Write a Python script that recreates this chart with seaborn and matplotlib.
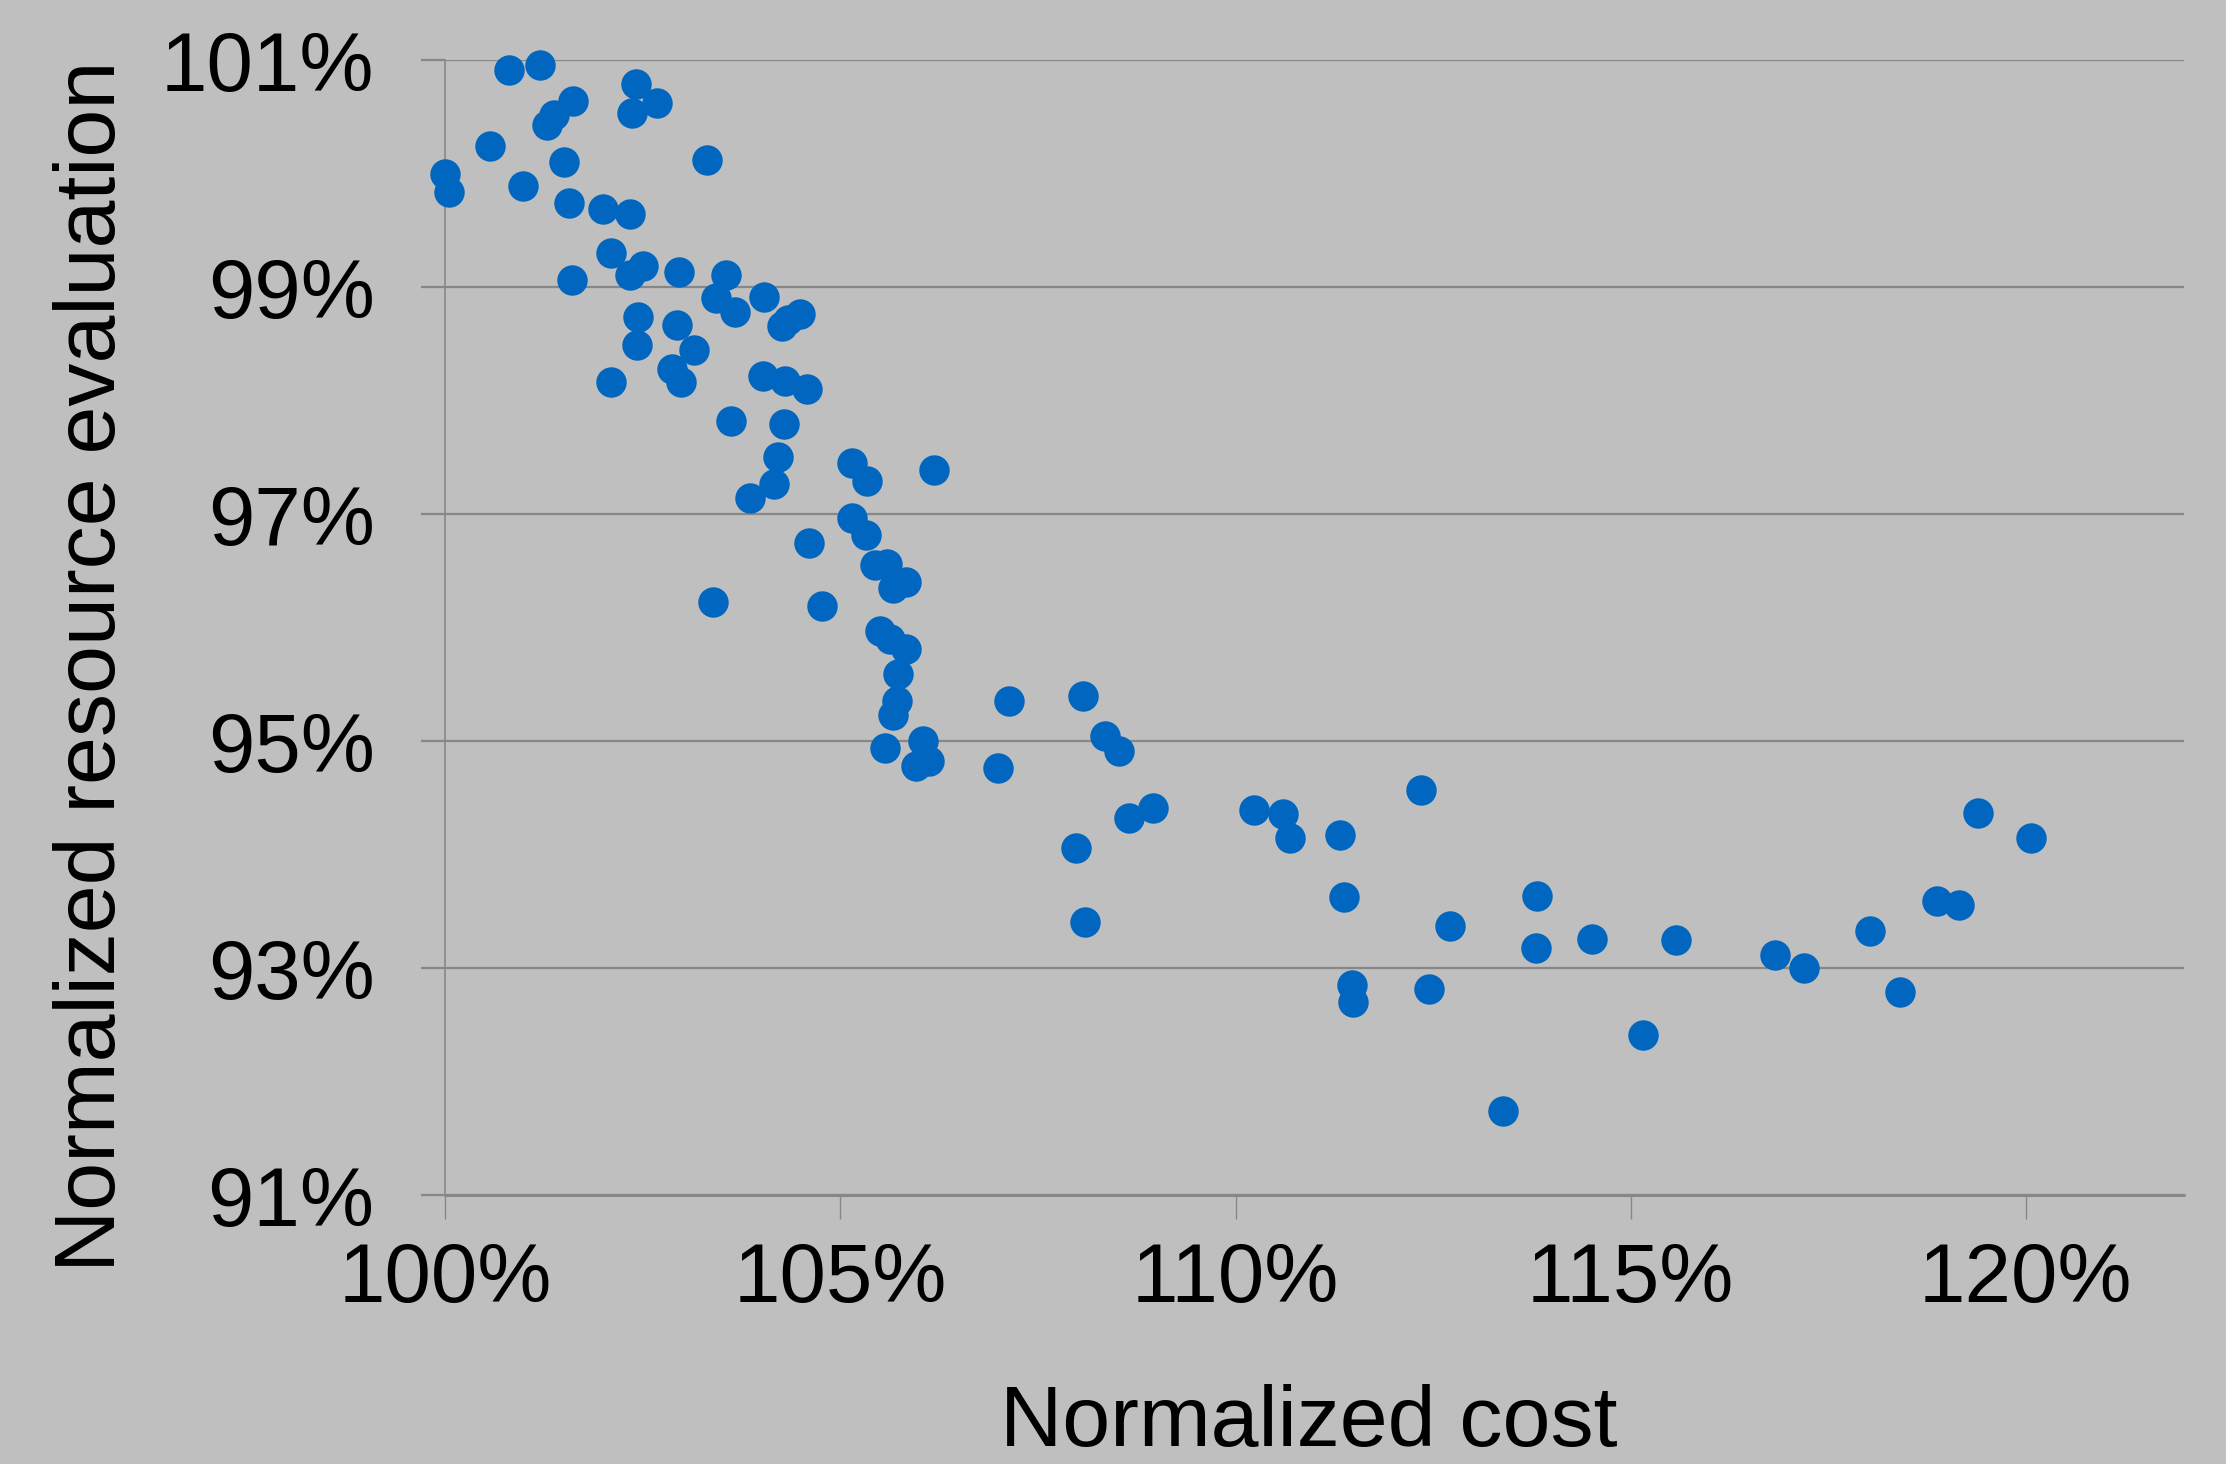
import matplotlib
matplotlib.use("Agg")
import matplotlib.pyplot as plt
import seaborn as sns
import pandas as pd
from matplotlib.ticker import FuncFormatter

# %% data (percent)
cost = [100.00, 100.04, 100.57, 100.80, 101.20, 100.98, 101.29, 101.37, 101.62, 101.50,
        101.57, 101.60, 102.41, 102.36, 102.68, 103.31, 102.00, 102.33, 102.10, 102.33,
        102.50, 102.95, 102.44, 102.42, 102.09, 102.87, 102.98, 102.93, 103.14, 103.55,
        103.43, 103.67, 104.03, 104.26, 104.33, 104.49, 104.02, 104.30, 104.57, 103.62,
        104.28, 104.21, 104.16, 103.86, 103.39, 104.60, 104.76, 105.14, 105.33, 106.18,
        105.14, 105.32, 105.44, 105.59, 105.83, 105.66, 105.50, 105.63, 105.83, 105.73,
        105.71, 105.66, 105.56, 106.05, 105.95, 106.12, 106.99, 107.13, 108.07, 108.35,
        108.52, 107.98, 108.09, 108.65, 108.95, 110.23, 110.60, 110.69, 111.32, 112.35,
        111.37, 111.47, 111.49, 112.45, 112.71, 113.39, 113.81, 113.80, 114.51, 115.16,
        115.58, 116.83, 117.20, 118.03, 118.41, 118.88, 119.15, 119.40, 120.07]

evaluation = [100.00, 99.84, 100.24, 100.91, 100.96, 99.89, 100.43, 100.52, 100.64, 100.10,
              99.74, 99.06, 100.79, 100.53, 100.62, 100.12, 99.69, 99.64, 99.30, 99.11,
              99.19, 99.13, 98.74, 98.49, 98.16, 98.28, 98.16, 98.67, 98.45, 99.11,
              98.90, 98.78, 98.91, 98.66, 98.71, 98.76, 98.22, 98.17, 98.10, 97.82,
              97.79, 97.50, 97.27, 97.14, 96.23, 96.75, 96.19, 97.45, 97.29, 97.39,
              96.97, 96.82, 96.55, 96.56, 96.40, 96.35, 95.97, 95.90, 95.81, 95.59,
              95.35, 95.23, 94.94, 95.00, 94.78, 94.83, 94.76, 95.35, 95.40, 95.05,
              94.91, 94.06, 93.41, 94.32, 94.41, 94.39, 94.36, 94.15, 94.17, 94.57,
              93.63, 92.85, 92.70, 92.82, 93.37, 91.74, 93.64, 93.18, 93.26, 92.41,
              93.25, 93.12, 93.00, 93.33, 92.79, 93.59, 93.56, 94.37, 94.15]

x_ticks = [100, 105, 110, 115, 120]
y_ticks = [91, 93, 95, 97, 99, 101]

df = pd.DataFrame({"cost": cost, "evaluation": evaluation})

# %% style
bg = "#bfbfbf"
grid_c = "#878787"
sns.set_style("white")
plt.rcParams["font.family"] = ["Liberation Sans", "DejaVu Sans"]

fig = plt.figure(figsize=(22.26, 14.64), dpi=100, facecolor=bg)
ax = fig.add_axes([0.2001, 0.1835, 0.7809, 0.7755])
ax.set_facecolor(bg)

sns.scatterplot(data=df, x="cost", y="evaluation", ax=ax,
                color="#0066bf", s=480, linewidth=0, zorder=3, clip_on=False)

ax.set_xlim(100, 122)
ax.set_ylim(91, 101)
ax.set_xticks(x_ticks)
ax.set_yticks(y_ticks)
pct = FuncFormatter(lambda v, p: f"{v:.0f}%")
ax.xaxis.set_major_formatter(pct)
ax.yaxis.set_major_formatter(pct)

ax.grid(axis="y", color=grid_c, linewidth=1.6, zorder=0)
ax.grid(axis="x", visible=False)
for side in ["top", "right", "bottom"]:
    ax.spines[side].set_visible(False)
ax.spines["left"].set_color(grid_c)
ax.spines["left"].set_linewidth(1.2)
ax.axhline(91, color=grid_c, linewidth=2.2, zorder=1, clip_on=False)

ax.tick_params(axis="y", left=True, length=17, width=1.6, color=grid_c, direction="out",
               pad=34, labelsize=60, labelcolor="black")
ax.tick_params(axis="x", bottom=True, length=17, width=1.0, color=grid_c, direction="out",
               pad=16, labelsize=60, labelcolor="black")

ax.set_xlabel("Normalized cost", fontsize=62, color="black")
ax.set_ylabel("Normalized resource evaluation", fontsize=62, color="black")
ax.yaxis.label.set_va("center")
ax.xaxis.label.set_va("baseline")
ax.yaxis.set_label_coords(-0.2028, 0.4662)
ax.xaxis.set_label_coords(0.4967, -0.221)

fig.savefig("out.png", dpi=100, facecolor=bg)
